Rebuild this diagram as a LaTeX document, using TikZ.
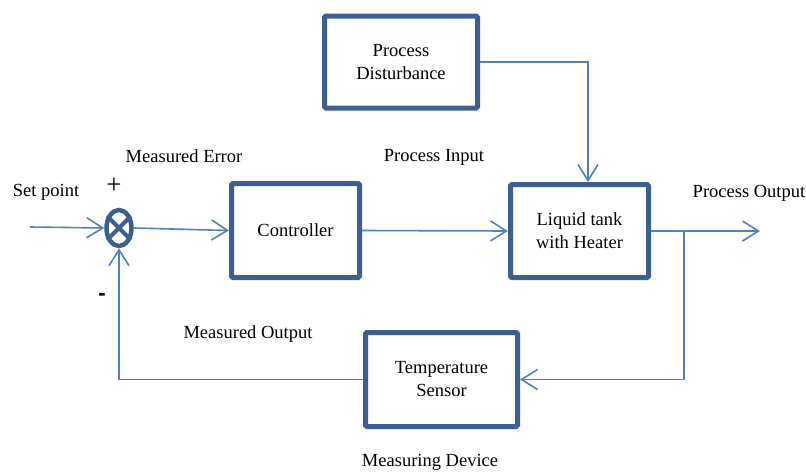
\documentclass[tikz,border=0pt]{standalone}
\usepackage{fontspec}
\setmainfont{Liberation Serif}
\setsansfont{Liberation Sans}
\usetikzlibrary{arrows.meta,shapes.geometric}
\definecolor{boxblue}{HTML}{3B5F8E}
\definecolor{linkblue}{HTML}{4F81BD}
\tikzset{
  blockbox/.style={draw=boxblue,line width=5pt,rounded corners=1.5pt,fill=white,align=center,inner sep=0pt,font=\fontsize{18.5}{23}\selectfont},
  link/.style={draw=linkblue,line width=1.6pt},
  arr/.style={link,-{Straight Barb[length=16pt,width=20pt,line width=1.6pt]}},
  lbl/.style={font=\fontsize{18.5}{24}\selectfont,inner sep=0pt},
  sumnode/.style={ellipse,draw=boxblue,line width=4.5pt,minimum width=25pt,minimum height=36pt,inner sep=0pt}
}
\begin{document}
\begin{tikzpicture}[x=1pt,y=-1pt]
\useasboundingbox (0,0) rectangle (806,472);
\node[blockbox,minimum width=153pt,minimum height=92pt] (dist) at (401,62) {Process\\Disturbance};
\node[blockbox,minimum width=128pt,minimum height=94pt] (ctrl) at (295.5,230.5) {Controller};
\node[blockbox,minimum width=138pt,minimum height=93pt] (tank) at (579.5,231) {Liquid tank\\with Heater};
\node[blockbox,minimum width=152pt,minimum height=94pt] (sens) at (441.5,379.5) {Temperature\\Sensor};
\node[sumnode] (sum) at (119,228) {};
\draw[boxblue,line width=4pt] (sum.45) -- (sum.225) (sum.135) -- (sum.-45);
\coordinate (sp) at (30,227);
\coordinate (dtop) at (588,182);
\coordinate (out) at (760,231);
\coordinate (br) at (684,231);
\draw[arr] (sp) -- (sum.west);
\draw[arr] (sum.east) -- (ctrl.west);
\draw[arr] (ctrl.east) -- (tank.west);
\draw[arr] (dist.east) -| (dtop);
\draw[arr] (tank.east) -- (out);
\draw[arr] (br) |- (sens.east);
\draw[arr] (sens.west) -| (sum.south);
\node[lbl] (lsp) at (46,192) {Set point};
\node[lbl,font=\fontsize{27}{27}\selectfont] (lplus) at (114,186) {+};
\node[lbl,font=\sffamily\bfseries\fontsize{22}{24}\selectfont] (lminus) at (102,297) {-};
\node[lbl] (lme) at (184,156) {Measured Error};
\node[lbl] (lpi) at (434,157) {Process Input};
\node[lbl] (lpo) at (749,193) {Process Output};
\node[lbl] (lmo) at (248,334) {Measured Output};
\node[lbl] (lmd) at (430,462) {Measuring Device};
\end{tikzpicture}
\end{document}
